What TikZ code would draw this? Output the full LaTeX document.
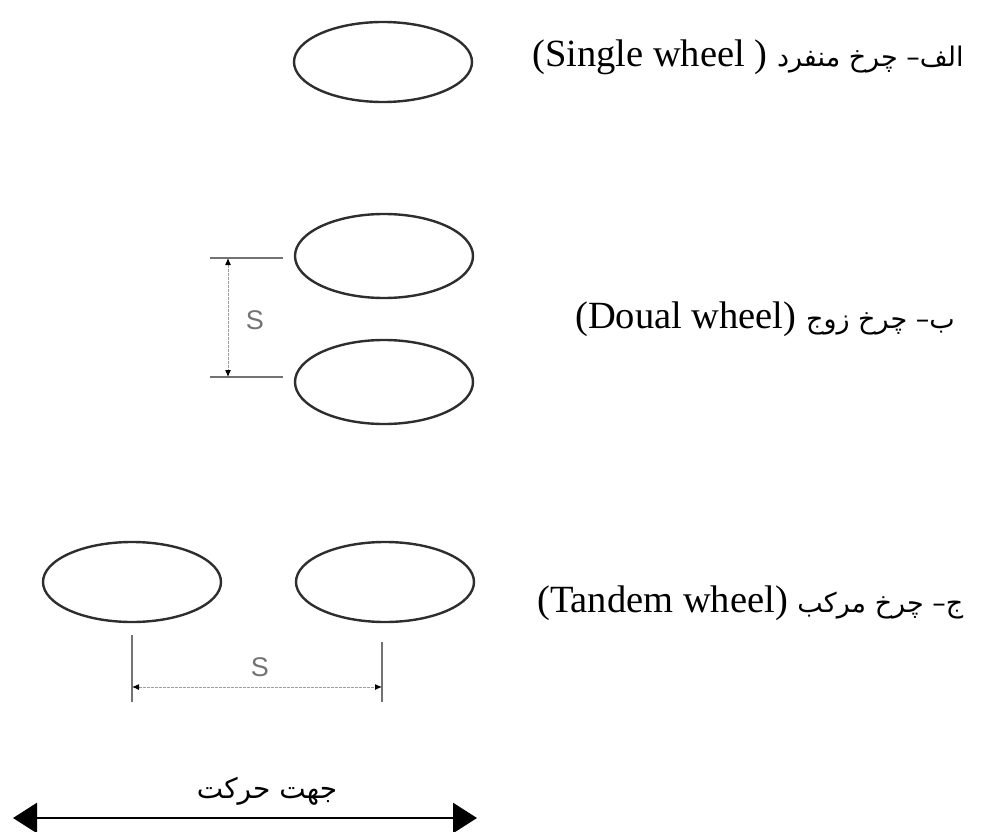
\documentclass[tikz,border=0pt]{standalone}
\usepackage{fontspec}
\setmainfont{Liberation Serif}
\setsansfont{Liberation Sans}
\newfontfamily\arabicfont[Script=Arabic]{DejaVu Sans}
\TeXXeTstate=1
\usepackage{tikz}
\usetikzlibrary{arrows.meta, positioning, shapes.geometric}
\usepackage{xcolor}
\definecolor{wheelgrey}{rgb}{0.18, 0.18, 0.18}
\definecolor{extgrey}{rgb}{0.45, 0.45, 0.45}
\definecolor{leadgrey}{rgb}{0.62, 0.62, 0.62}

\begin{document}
\begin{tikzpicture}[x=1pt, y=-1pt,
			wheel/.style={draw=wheelgrey, line width=2.4pt, ellipse, minimum width=178pt, minimum height=80pt, inner sep=0pt},
			caption/.style={anchor=base west, inner sep=0pt, font=\fontsize{38.5}{46}\selectfont},
			fa/.style={font=\arabicfont\fontsize{28}{36}\selectfont},
			extline/.style={draw=extgrey, line width=1.6pt},
			dimline/.style={draw=leadgrey, line width=1pt, dash pattern=on 3pt off 1pt, {Latex[length=7pt, width=6pt, color=black]}-{Latex[length=7pt, width=6pt, color=black]}},
			dimlabel/.style={font=\sffamily\fontsize{27}{30}\selectfont, text=extgrey, inner sep=0pt},
			movearrow/.style={line width=2.6pt, {Triangle[length=24pt, width=30pt]}-{Triangle[length=24pt, width=30pt]}}
		]
		\useasboundingbox (0,0) rectangle (989,832);
		\node[wheel] (single) at (383,62) {};
		\node[wheel, minimum height=84pt] (dualtop) at (384,256) {};
		\node[wheel, minimum height=84pt] (dualbot) at (384,382) {};
		\node[wheel] (tandemL) at (132,582) {};
		\node[wheel] (tandemR) at (385,582) {};
		\node[caption] (singlecap) at (532,67) {(Single wheel ) {\arabicfont\fontsize{27}{36}\selectfont\beginR الف– چرخ منفرد\endR}};
		\node[caption] (dualcap) at (575,328) {(Doual wheel) {\arabicfont\fontsize{27}{36}\selectfont\beginR ب– چرخ زوج\endR}};
		\node[caption] (tandemcap) at (537,612) {(Tandem wheel) {\arabicfont\fontsize{27}{36}\selectfont\beginR ج– چرخ مرکب\endR}};
		\coordinate (sTop) at (228,258);
		\coordinate (sBot) at (228,377);
		\draw[extline] (sTop) ++(-18,0) -- ++(73,0);
		\draw[extline] (sBot) ++(-18,0) -- ++(73,0);
		\draw[dimline] (sTop) -- (sBot);
		\node[dimlabel] (dualS) at (255,320) {S};
		\coordinate (sLeft) at (132,687);
		\coordinate (sRight) at (382,687);
		\draw[extline] (sLeft) ++(0,-52) -- ++(0,67);
		\draw[extline] (sRight) ++(0,-45) -- ++(0,60);
		\draw[dimline] (sLeft) -- (sRight);
		\node[dimlabel] (tandemS) at (260,667) {S};
		\coordinate (moveL) at (13,818);
		\coordinate (moveR) at (477,818);
		\draw[movearrow] (moveL) -- (moveR);
		\node[fa, anchor=base, inner sep=0pt] (movecap) at (267,798) {\beginR جهت حرکت\endR};
	\end{tikzpicture}
\end{document}
